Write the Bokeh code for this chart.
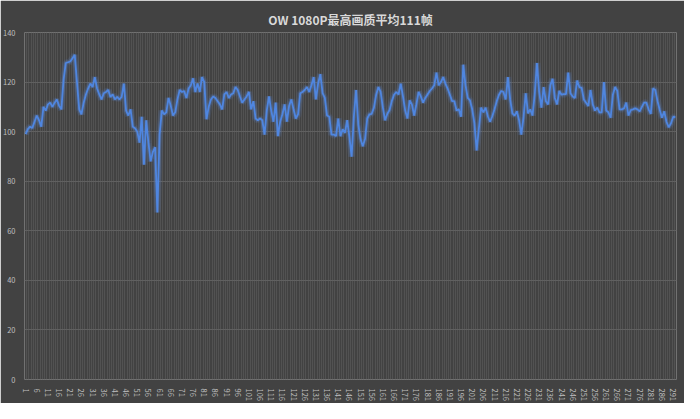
from bokeh.plotting import figure
from bokeh.models import FixedTicker, ColumnDataSource
from bokeh.embed import file_html
from bokeh.resources import INLINE

title_text = "OW 1080P最高画质平均111帧"

# frame rate readings, one per sample (1..292)
fps_a = [99, 101, 102, 101.5, 104, 106.5, 104.6, 102, 110, 108.5, 111, 111.7, 110, 111.7, 113,
         110.4, 109, 121, 127.7, 128, 128.3, 129.6, 131, 120, 109, 107, 111.7, 115, 117.4, 119.4,
         118, 122, 117.4, 115, 113, 115.5, 116, 116.8, 114, 115, 113, 114, 113, 114, 119.4]
fps_b = [108.5, 106.5, 109, 102, 101.4, 100, 95.6, 106, 86.7, 104.6, 95.6, 88, 91.8, 93.7, 67.4,
         98.8, 108.5, 107, 107.8, 113.6, 110.4, 106.5, 107.8, 113, 116.8, 116, 116.4, 113.6, 117.4,
         118.7, 121.5, 116, 119.4, 116, 122, 120, 105, 110, 113, 114.2, 113.6, 112.3, 111, 109,
         115, 116, 113.6, 115, 115.5, 118]
fps_c = [116.8, 114.2, 111.7, 113, 114.2, 116, 109, 112.3, 105.3, 104.6, 105.3, 104.6, 98.8, 108.5,
         114.2, 108.5, 104, 111.7, 98.2, 104, 107, 111, 104, 110.4, 113, 109, 105.3, 107, 115.5,
         116, 116.8, 118, 116, 118.7, 122, 113, 119.4, 123.2, 115.5, 113.6, 106.5, 106, 98.8, 98.8,
         98.2, 105.3, 98.2, 101]
fps_d = [99.5, 104.6, 98, 89.9, 106, 116.8, 102.7, 97, 94.1, 97, 105.3, 107, 107.2, 109.7, 114.9,
         118, 116, 109.7, 104.6, 107.2, 108.7, 112.3, 114.9, 116, 115, 119.4, 114.2, 108.5, 105.3,
         112.6, 111, 106.5, 111, 116, 114.2, 111.7, 113.6, 115, 116.4, 117.4, 118.7, 123.8, 118.7,
         120, 122, 119.4, 117.4, 114.9, 112.3]
fps_e = [112.3, 108.5, 109, 106, 127, 118.7, 113.6, 112.6, 109, 103.3, 92.4, 101.4, 109.7, 107.8,
         109.7, 106.2, 104, 106.2, 109, 112.3, 114.9, 116.4, 116, 113, 122, 113, 107.4, 106.5,
         108.2, 104.6, 98.8, 105.9, 115.5, 107.4, 109, 106.5, 114.9, 127.7, 116, 109.7, 118, 112.3,
         111, 118.7, 121.3, 113.6, 111, 116.4]
fps_f = [114.9, 115.1, 115.1, 123.8, 115.5, 114.2, 113.6, 120.6, 118, 117.7, 113, 111.7, 110.4,
         116.8, 111, 108.5, 109.7, 107.8, 107.8, 120, 108.5, 107.8, 105.6, 114.9, 118, 116.4, 109,
         109, 109.4, 111.7, 106.5, 108.7, 109, 109.4, 109, 108.2, 110, 111.7, 111.7, 109, 107.2,
         117.4, 116.8, 112.3, 108.7, 105.6, 108.2, 104, 101.8, 103.3, 105.9, 105.9]

fps = fps_a + fps_b + fps_c + fps_d + fps_e + fps_f
samples = list(range(1, len(fps) + 1))
x_tick_values = samples[::5]
x_tick_labels = [str(s) for s in x_tick_values]
y_ticks = [0, 20, 40, 60, 80, 100, 120, 140]

BG = "#424242"
src = ColumnDataSource(dict(x=samples, y=fps))

p = figure(width=684, height=403, output_backend="svg", toolbar_location=None,
           x_range=(0.5, len(fps) + 0.5), y_range=(0, 140),
           background_fill_color=BG, border_fill_color=BG, outline_line_color=None,
           min_border_left=24, min_border_right=8, min_border_top=32, min_border_bottom=21,
           title=title_text)

p.title.align = "center"
p.title.text_color = "#d9d9d9"
p.title.text_font = "Noto Sans CJK SC"
p.title.text_font_size = "12px"
p.title.text_font_style = "bold"

# glow layers + main line
p.line("x", "y", source=src, line_color="#5b8fe8", line_width=7, line_alpha=0.12)
p.line("x", "y", source=src, line_color="#5b8fe8", line_width=4, line_alpha=0.25)
p.line("x", "y", source=src, line_color="#4f86e0", line_width=1.8)

p.xaxis.ticker = FixedTicker(ticks=x_tick_values)
p.xaxis.major_label_overrides = {v: l for v, l in zip(x_tick_values, x_tick_labels)}
p.xaxis.major_label_orientation = "vertical"
p.yaxis.ticker = FixedTicker(ticks=y_ticks)

for ax in (p.xaxis[0], p.yaxis[0]):
    ax.axis_line_color = None
    ax.major_tick_line_color = None
    ax.minor_tick_line_color = None
    ax.major_label_text_color = "#bfbfbf"
    ax.major_label_text_font = "Noto Sans CJK SC"
    ax.major_label_text_font_size = "7.5px"
    ax.major_label_standoff = 3

p.xgrid.ticker = FixedTicker(ticks=[s + 0.5 for s in samples[:-1]])
p.xgrid.grid_line_color = "#575757"
p.xgrid.grid_line_width = 0.8
p.ygrid.ticker = FixedTicker(ticks=y_ticks)
p.ygrid.grid_line_color = "#606060"
p.ygrid.grid_line_width = 1

open("out.html", "w").write(file_html(p, INLINE))
